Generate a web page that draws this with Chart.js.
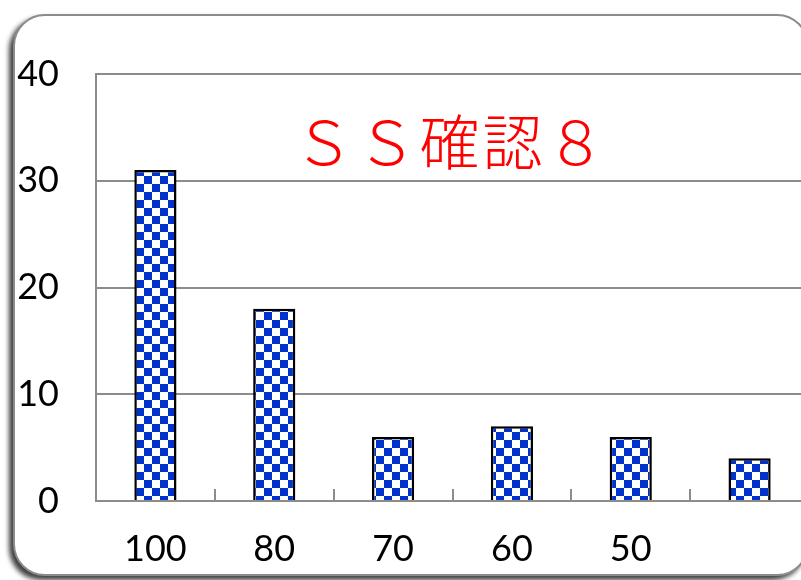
<!DOCTYPE html>
<html>
<head>
<meta charset="utf-8">
<script src="https://cdn.jsdelivr.net/npm/chart.js@4"></script>
<style>
  html, body { margin: 0; padding: 0; background: #fff; overflow: hidden; width: 801px; height: 580px; }
  #frame {
    position: absolute; left: 13px; top: 14px; width: 792px; height: 558px;
    border: 2.5px solid #8c8c8c; border-radius: 32px; background: #fff;
    box-shadow: -4px 4px 5px rgba(0, 0, 0, 0.75);
  }
  #chart { position: absolute; left: 0; top: 0; }
</style>
</head>
<body>
<div id="frame"></div>
<canvas id="chart" width="820" height="580"></canvas>
<script>
// Chart data
const categories = ['100', '80', '70', '60', '50', ''];
const counts = [31, 18, 6, 7, 6, 4];
const yTicks = [0, 10, 20, 30, 40];
const chartTitle = 'ＳＳ確認８';

// blue / white checkerboard fill
function makeChecker(ctx) {
    const size = 8;
    const c = document.createElement('canvas');
    c.width = size * 2;
    c.height = size * 2;
    const g = c.getContext('2d');
    g.fillStyle = '#ffffff';
    g.fillRect(0, 0, size * 2, size * 2);
    g.fillStyle = '#0033cc';
    g.fillRect(0, 0, size, size);
    g.fillRect(size, size, size, size);
    return ctx.createPattern(c, 'repeat');
}

// title drawn inside the plot area
const innerTitle = {
    id: 'innerTitle',
    afterDraw(chart) {
        const ctx = chart.ctx;
        const area = chart.chartArea;
        ctx.save();
        ctx.fillStyle = '#ff0000';
        ctx.font = '300 60px "Noto Sans CJK JP", serif';
        ctx.textAlign = 'center';
        ctx.textBaseline = 'middle';
        if ('letterSpacing' in ctx) ctx.letterSpacing = '3px';
        ctx.fillText(chartTitle, area.left + 355, area.top + 68);
        ctx.restore();
    }
};

const ctx = document.getElementById('chart').getContext('2d');
const checker = makeChecker(ctx);

new Chart(ctx, {
    type: 'bar',
    data: {
        labels: categories,
        datasets: [{
            data: counts,
            backgroundColor: checker,
            borderColor: '#000000',
            borderWidth: 2.5,
            barPercentage: 0.355,
            categoryPercentage: 1
        }]
    },
    options: {
        responsive: false,
        animation: false,
        layout: { padding: { top: 74, right: 11, left: 0, bottom: 0 } },
        plugins: {
            legend: { display: false },
            tooltip: { enabled: false }
        },
        scales: {
            x: {
                grid: {
                    drawOnChartArea: false,
                    color: '#8c8c8c',
                    lineWidth: 2,
                    tickLength: -12
                },
                border: { color: '#8c8c8c', width: 2 },
                ticks: {
                    color: '#000',
                    padding: 39,
                    font: { family: 'Lato', size: 36 },
                    maxRotation: 0
                },
                afterFit(scale) { scale.height = 79; }
            },
            y: {
                min: 0,
                max: 40,
                afterBuildTicks(scale) {
                    scale.ticks = yTicks.map(v => ({ value: v }));
                },
                grid: { color: '#8c8c8c', lineWidth: 2, drawTicks: false },
                border: { color: '#8c8c8c', width: 2 },
                ticks: {
                    color: '#000',
                    padding: 37,
                    font: { family: 'Lato', size: 36 }
                },
                afterFit(scale) { scale.width = 96; }
            }
        }
    },
    plugins: [innerTitle]
});
</script>
</body>
</html>
